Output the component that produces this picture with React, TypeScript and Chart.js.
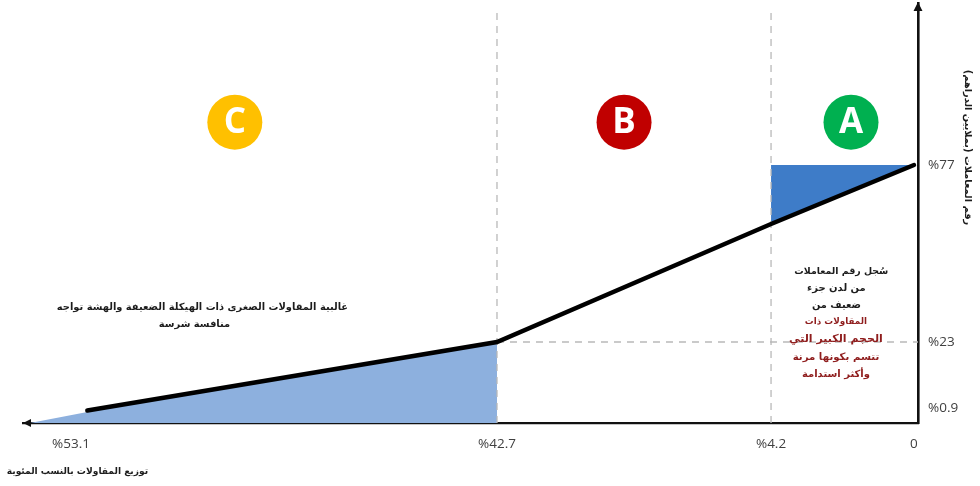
import React, { useEffect, useRef } from "react";
import { Chart, LinearScale, registerables } from "chart.js";

// Axis stops of the schematic curve (the axes are not drawn to a uniform scale)
const xValues = [-0.1, 0, 4.2, 42.7, 53.1, 54.27];
const xFractions = [1, 0.9955, 0.8358, 0.5296, 0.0536, 0];
const yValues = [0, 0.9, 23, 77, 130];
const yFractions = [1, 0.9643, 0.8071, 0.3857, 0];

const xTicks = [0, 4.2, 42.7, 53.1];
const yTicks = [0.9, 23, 77];

// Concentration curve
const curveX = [0, 4.2, 42.7, 52.7];
const curveY = [77, 59, 23, 0.75];

// Shaded areas
const upperAreaX = [0, 4.2];
const upperAreaY = [77, 59];
const lowerAreaX = [42.7, 52.7, 54.1];
const lowerAreaY = [23, 0.66, 0];

// Zone badges
const zoneLetters = ["A", "B", "C"];
const zoneX = [1.85, 24.85, 49.1];
const zoneY = [91, 91, 91];
const zoneColors = ["#00B050", "#C00000", "#FFC000"];

// Annotations
const yTitle = "رقم المعاملات (بملايين الدراهم)";
const xTitle = "توزيع المقاولات بالنسب المئوية";
const leftNote = ["غالبية المقاولات الصغرى ذات الهيكلة الضعيفة والهشة تواجه", "منافسة شرسة"];
const rightNoteDark = ["سُجل رقم المعاملات", "من لدن جزء", "ضعيف من"];
const rightNoteRed = ["المقاولات ذات", "الحجم الكبير التي", "تتسم بكونها مرنة", "وأكثر استدامة"];

const ARABIC_FONT = '"DejaVu Sans", sans-serif';
const LATIN_FONT = '"Open Sans", sans-serif';

// Linear scale whose value-to-pixel mapping is piecewise between fixed stops
class SteppedScale extends LinearScale {
  static id = "stepped";
  static defaults = LinearScale.defaults;

  stops() {
    return this.axis === "x"
      ? { v: xValues, f: xFractions, start: this.left, size: this.width }
      : { v: yValues, f: yFractions, start: this.top, size: this.height };
  }

  // Tick labels may overhang the plot area without shrinking it
  getPadding() {
    return { left: 0, right: 0, top: 0, bottom: 0 };
  }

  getPixelForValue(value: number) {
    const { v, f, start, size } = this.stops();
    let i = 0;
    while (i < v.length - 2 && value > v[i + 1]) i++;
    const t = (value - v[i]) / (v[i + 1] - v[i]);
    return start + (f[i] + t * (f[i + 1] - f[i])) * size;
  }

  getValueForPixel(pixel: number) {
    const { v, f, start, size } = this.stops();
    const p = (pixel - start) / size;
    for (let i = 0; i < v.length - 1; i++) {
      const lo = Math.min(f[i], f[i + 1]);
      const hi = Math.max(f[i], f[i + 1]);
      if (p >= lo && p <= hi) return v[i] + ((p - f[i]) / (f[i + 1] - f[i])) * (v[i + 1] - v[i]);
    }
    return v[0];
  }
}

Chart.register(...registerables, SteppedScale);

const pairs = (xs: number[], ys: number[]) => xs.map((x, i) => ({ x, y: ys[i] }));

const dashed = (data: { x: number; y: number }[]) => ({
  data,
  showLine: true,
  borderColor: "#b9b9b9",
  borderWidth: 1.3,
  borderDash: [7, 6],
  pointRadius: 0,
  clip: false as const,
  order: 3,
});

// Axis arrowheads, badge letters and the free-standing notes
const decorations = {
  id: "decorations",
  afterDatasetsDraw(chart: Chart) {
    const { ctx, chartArea: a } = chart;
    ctx.save();
    ctx.fillStyle = "#111";
    ctx.beginPath();
    ctx.moveTo(a.right, a.top - 1);
    ctx.lineTo(a.right - 4.5, a.top + 8);
    ctx.lineTo(a.right + 4.5, a.top + 8);
    ctx.closePath();
    ctx.moveTo(a.left, a.bottom);
    ctx.lineTo(a.left + 8, a.bottom - 4);
    ctx.lineTo(a.left + 8, a.bottom + 4);
    ctx.closePath();
    ctx.fill();

    ctx.textAlign = "center";
    ctx.textBaseline = "middle";

    const badges = chart.getDatasetMeta(chart.data.datasets.length - 1).data;
    ctx.fillStyle = "#fff";
    ctx.font = `bold 35px ${LATIN_FONT}`;
    badges.forEach((pt, i) => ctx.fillText(zoneLetters[i], pt.x, pt.y + 1));

    const w = chart.width;
    const h = chart.height;
    const note = (text: string, x: number, y: number, color: string, size: number) => {
      ctx.fillStyle = color;
      ctx.font = `bold ${size}px ${ARABIC_FONT}`;
      ctx.fillText(text, x * w, y * h);
    };
    note(leftNote[0], 0.2066, 0.632, "#1c1c1c", 9.9);
    note(leftNote[1], 0.1985, 0.667, "#1c1c1c", 9.9);
    note(xTitle, 0.079, 0.971, "#1c1c1c", 9.1);
    [9.4, 10, 9.8].forEach((s, i) =>
      note(rightNoteDark[i], i === 0 ? 0.8585 : 0.8535, [0.558, 0.593, 0.628][i], "#1c1c1c", s));
    [8.8, 11, 10.2, 10].forEach((s, i) =>
      note(rightNoteRed[i], 0.853, [0.662, 0.698, 0.735, 0.77][i], "#8f1d1d", s));

    ctx.translate(0.9875 * w, 0.3035 * h);
    ctx.rotate(Math.PI / 2);
    ctx.fillStyle = "#1c1c1c";
    ctx.font = `bold 9.8px ${ARABIC_FONT}`;
    ctx.fillText(yTitle, 0, 0);
    ctx.restore();
  },
};

export default function App() {
  const ref = useRef<HTMLCanvasElement>(null);

  useEffect(() => {
    const chart = new Chart(ref.current!, {
      type: "scatter",
      data: {
        datasets: [
          {
            data: pairs(lowerAreaX, lowerAreaY),
            showLine: true,
            borderWidth: 0,
            pointRadius: 0,
            backgroundColor: "#8DB0DE",
            fill: { value: 0 },
            order: 4,
          },
          {
            data: pairs(upperAreaX, upperAreaY),
            showLine: true,
            borderWidth: 0,
            pointRadius: 0,
            backgroundColor: "#3E7CC8",
            fill: { value: 77 },
            order: 4,
          },
          dashed([{ x: 4.2, y: 0 }, { x: 4.2, y: 128 }]),
          dashed([{ x: 42.7, y: 0 }, { x: 42.7, y: 128 }]),
          dashed([{ x: 42.7, y: 23 }, { x: -0.1, y: 23 }]),
          {
            data: pairs(curveX, curveY),
            showLine: true,
            borderColor: "#000",
            borderWidth: 4.5,
            borderCapStyle: "round",
            pointRadius: 0,
            clip: false,
            order: 2,
          },
          {
            data: pairs(zoneX, zoneY),
            showLine: false,
            pointRadius: 27.5,
            pointBorderWidth: 0,
            pointBackgroundColor: zoneColors,
            order: 1,
          },
        ],
      },
      options: {
        responsive: false,
        animation: false,
        layout: { padding: { left: 23, top: 3, right: 0, bottom: 0 }, autoPadding: false },
        plugins: { legend: { display: false }, tooltip: { enabled: false } },
        events: [],
        scales: {
          x: {
            type: "stepped",
            min: -0.1,
            max: 54.27,
            position: "bottom",
            grid: { display: false, drawTicks: false },
            border: { display: true, color: "#111", width: 2.2 },
            afterBuildTicks: (s: any) => { s.ticks = xTicks.map((value) => ({ value })); },
            afterFit: (s: any) => { s.height = 63; },
            ticks: {
              autoSkip: false,
              maxRotation: 0,
              padding: 13,
              color: "#404040",
              font: { family: LATIN_FONT, size: 13.5 },
              callback: (v: any) => (v === 0 ? "0" : `%${v}`),
            },
          },
          y: {
            type: "stepped",
            min: 0,
            max: 130,
            position: "right",
            grid: { display: false, drawTicks: false },
            border: { display: true, color: "#111", width: 2.6 },
            afterBuildTicks: (s: any) => { s.ticks = yTicks.map((value) => ({ value })); },
            afterFit: (s: any) => { s.width = 62; },
            ticks: {
              autoSkip: false,
              padding: 10,
              color: "#404040",
              font: { family: LATIN_FONT, size: 13.5 },
              callback: (v: any) => `%${v}`,
            },
          },
        },
      } as any,
      plugins: [decorations],
    });
    return () => chart.destroy();
  }, []);

  return (
    <div style={{ position: "fixed", left: 0, top: 0, width: 980, height: 486, background: "#fff" }}>
      <canvas ref={ref} width={980} height={486} style={{ display: "block" }} />
    </div>
  );
}
